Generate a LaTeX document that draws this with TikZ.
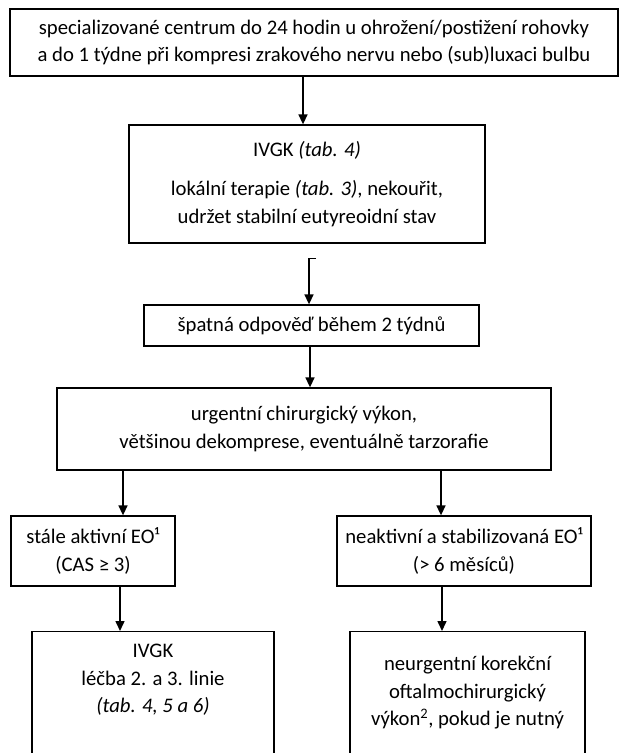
\documentclass[tikz,border=0pt]{standalone}
\usepackage{fontspec}
\setmainfont{Carlito}
\usetikzlibrary{arrows.meta,calc}
\begin{document}
\begin{tikzpicture}[x=1pt,y=-1pt,
  every node/.append style={font=\fontsize{20.7}{27.5}\selectfont},
  box/.style={draw, line width=1.3pt, inner sep=0pt, align=center},
  txt/.style={align=center, inner sep=0pt},
  arr/.style={line width=1.5pt, -{Triangle[width=9pt,length=10pt]}}]
\useasboundingbox (0,0) rectangle (620,753);
\fill[white] (0,0) rectangle (620,753);
\clip (0,0) rectangle (620,753);

\node[box, minimum width=608, minimum height=67] (top) at (314,42.5)
  {specializované centrum do 24 hodin u ohrožení/postižení rohovky\\a do 1 týdne při kompresi zrakového nervu nebo (sub)luxaci bulbu};
\node[box, minimum width=356, minimum height=118] (ivgk) at (307,184)
  {IVGK \textit{(tab. 4)}\\[12pt]lokální terapie \textit{(tab. 3)}, nekouřit,\\udržet stabilní eutyreoidní stav};
\node[box, minimum width=335, minimum height=41] (poor) at (311.5,325.5)
  {špatná odpověď během 2 týdnů};
\node[box, minimum width=494, minimum height=82] (urg) at (304,429)
  {urgentní chirurgický výkon,\\většinou dekomprese, eventuálně tarzorafie};
\node[box, minimum width=164, minimum height=70] (act) at (93,551)
  {stále aktivní EO¹\\(CAS ≥ 3)};
\node[box, minimum width=254, minimum height=70] (inact) at (464,551)
  {neaktivní a stabilizovaná EO¹\\(> 6 měsíců)};
\node[box, minimum width=242, minimum height=200, anchor=north] (ivgk2) at (153,631) {};
\node[txt] (ivgk2t) at ([yshift=-49pt]ivgk2.north)
  {IVGK\\léčba 2. a 3. linie\\\textit{(tab. 4, 5 a 6)}};
\node[box, minimum width=235, minimum height=200, anchor=north] (korek) at (467.5,631) {};
\node[txt] (korekt) at ([yshift=-62pt]korek.north)
  {neurgentní korekční\\oftalmochirurgický\\výkon\textsuperscript{2}, pokud je nutný};

\draw[arr] ([xshift=-3pt]top.south) -- ++(-8,0) -- ([xshift=-4pt]ivgk.north);
\draw[arr] ([xshift=9pt,yshift=-15pt]ivgk.south) -- ++(-7,0) -- ([xshift=-2.5pt]poor.north);
\draw[arr] ([xshift=6.5pt]poor.south) -- ++(-8,0) -- ([xshift=6pt]urg.north);
\draw[arr] ([xshift=-175pt]urg.south) -- ++(-6,0) -- ([xshift=30pt]act.north);
\draw[arr] ([xshift=143pt]urg.south) -- ++(-6,0) -- ([xshift=-23pt]inact.north);
\draw[arr] ([xshift=35pt]act.south) -- ++(-8,0) -- ([xshift=-33pt]ivgk2.north);
\draw[arr] ([xshift=-17pt]inact.south) -- ++(-5,0) -- ([xshift=-25.5pt]korek.north);
\end{tikzpicture}
\end{document}
